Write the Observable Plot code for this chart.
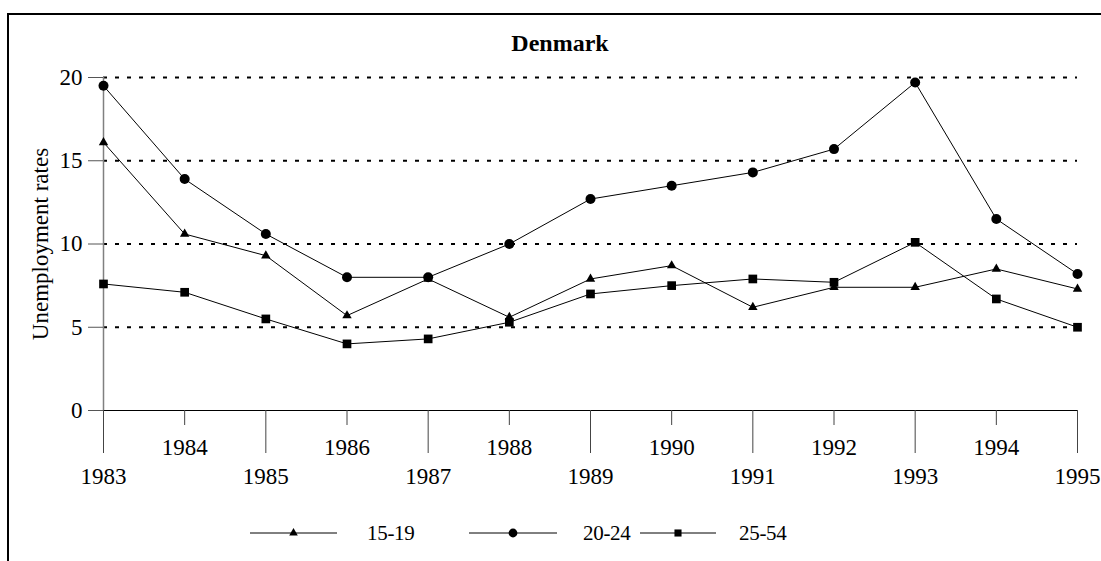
<!DOCTYPE html>
<html>
<head>
<meta charset="utf-8">
<script src="https://cdn.jsdelivr.net/npm/d3@7"></script>
<script src="https://cdn.jsdelivr.net/npm/@observablehq/plot@0.6"></script>
<style>
  html, body { margin: 0; padding: 0; background: #fff; }
  #wrap { position: relative; width: 1101px; height: 561px; overflow: hidden; font-family: "Liberation Serif", Tinos, "Times New Roman", Times, "DejaVu Serif", serif; color: #000; }
  #frame { position: absolute; left: 7px; top: 13px; width: 2000px; height: 2000px; border: 2px solid #000; box-sizing: border-box; }
  #chart { position: absolute; left: 0; top: 0; }
  #title { position: absolute; left: 460px; width: 200px; top: 28px; text-align: center; font-weight: bold; font-size: 24px; line-height: 30px; }
  #legend { position: absolute; left: 0; top: 520px; }
</style>
</head>
<body>
<div id="wrap">
  <div id="frame"></div>
  <div id="chart"></div>
  <div id="title">Denmark</div>
  <div id="legend"></div>
</div>
<script>
const years = [1983, 1984, 1985, 1986, 1987, 1988, 1989, 1990, 1991, 1992, 1993, 1994, 1995];
const series = ["15-19", "20-24", "25-54"];
const symbols = ["triangle", "circle", "square"];
const rate1519 = [16.1, 10.6, 9.3, 5.7, 7.9, 5.6, 7.9, 8.7, 6.2, 7.4, 7.4, 8.5, 7.3];
const rate2024 = [19.5, 13.9, 10.6, 8.0, 8.0, 10.0, 12.7, 13.5, 14.3, 15.7, 19.7, 11.5, 8.2];
const rate2554 = [7.6, 7.1, 5.5, 4.0, 4.3, 5.3, 7.0, 7.5, 7.9, 7.7, 10.1, 6.7, 5.0];
const yTicks = [0, 5, 10, 15, 20];
const gridValues = [5, 10, 15, 20];
const yLabel = "Unemployment rates";

const FONT = '"Liberation Serif", Tinos, "Times New Roman", Times, "DejaVu Serif", serif';
const values = [rate1519, rate2024, rate2554];
const data = [];
series.forEach((s, i) => years.forEach((yr, j) => data.push({year: yr, value: values[i][j], series: s})));

const oddYears = years.filter(y => y % 2 === 1);
const evenYears = years.filter(y => y % 2 === 0);
const symbolR = {"triangle": 3.5, "circle": 5, "square": 4.9};

const marks = [
  Plot.ruleY(gridValues, {x1: years[0], x2: years[years.length - 1], stroke: "#000", strokeWidth: 2, strokeDasharray: "4,8"}),
  Plot.ruleX([years[0]], {y1: 0, y2: 20, stroke: "#808080", strokeWidth: 1.5}),
  Plot.ruleY([0], {x1: years[0], x2: years[years.length - 1], stroke: "#000", strokeWidth: 1}),
  Plot.axisY({ticks: yTicks, tickSize: 15, tickPadding: 6, fontSize: 23, stroke: "#555",
    label: yLabel, labelAnchor: "center", labelOffset: 72, labelArrow: "none", tickFormat: d => String(d)}),
  Plot.axisX({ticks: oddYears, tickSize: 43, tickPadding: 14, fontSize: 23, stroke: "#444", label: null, tickFormat: d => String(d)}),
  Plot.axisX({ticks: evenYears, tickSize: 15, tickPadding: 13, fontSize: 23, stroke: "#444", label: null, tickFormat: d => String(d)})
];
series.forEach((s, i) => {
  const d = data.filter(r => r.series === s);
  marks.push(Plot.line(d, {x: "year", y: "value", stroke: "#000", strokeWidth: 1}));
  marks.push(Plot.dot(d, {x: "year", y: "value", symbol: () => symbols[i], r: symbolR[symbols[i]], fill: "#000", stroke: "none"}));
});

const chart = Plot.plot({
  width: 1101,
  height: 500,
  marginLeft: 103,
  marginRight: 24,
  marginTop: 77,
  marginBottom: 90,
  style: {fontFamily: FONT, fontSize: "23px", color: "#000", background: "transparent", overflow: "visible"},
  x: {domain: [years[0], years[years.length - 1]], axis: null},
  y: {domain: [0, 20], axis: null},
  symbol: {domain: symbols, range: symbols},
  marks
});
chart.setAttribute("font-family", FONT);
document.getElementById("chart").appendChild(chart);

// legend
const legendItems = [
  {label: series[0], symbol: symbols[0], x0: 250, x1: 337, tx: 367, r: 3.2},
  {label: series[1], symbol: symbols[1], x0: 469, x1: 557, tx: 583, r: 4.4},
  {label: series[2], symbol: symbols[2], x0: 640, x1: 716, tx: 739, r: 4.0}
];
const ns = "http://www.w3.org/2000/svg";
const lsvg = document.createElementNS(ns, "svg");
lsvg.setAttribute("width", 1101);
lsvg.setAttribute("height", 40);
lsvg.style.overflow = "visible";
legendItems.forEach(it => {
  const cy = 13;
  const line = document.createElementNS(ns, "line");
  line.setAttribute("x1", it.x0); line.setAttribute("x2", it.x1);
  line.setAttribute("y1", cy); line.setAttribute("y2", cy);
  line.setAttribute("stroke", "#000"); line.setAttribute("stroke-width", 1);
  lsvg.appendChild(line);
  const p = document.createElementNS(ns, "path");
  const sym = it.symbol === "triangle" ? d3.symbolTriangle : it.symbol === "circle" ? d3.symbolCircle : d3.symbolSquare;
  p.setAttribute("d", d3.symbol(sym, Math.PI * it.r * it.r)());
  p.setAttribute("transform", `translate(${(it.x0 + it.x1) / 2},${cy})`);
  p.setAttribute("fill", "#000");
  lsvg.appendChild(p);
  const t = document.createElementNS(ns, "text");
  t.setAttribute("x", it.tx); t.setAttribute("y", cy);
  t.setAttribute("dy", "0.35em");
  t.setAttribute("font-size", 21);
  t.setAttribute("letter-spacing", "-0.3");
  t.setAttribute("font-family", FONT);
  t.textContent = it.label;
  lsvg.appendChild(t);
});
document.getElementById("legend").appendChild(lsvg);
</script>
</body>
</html>
